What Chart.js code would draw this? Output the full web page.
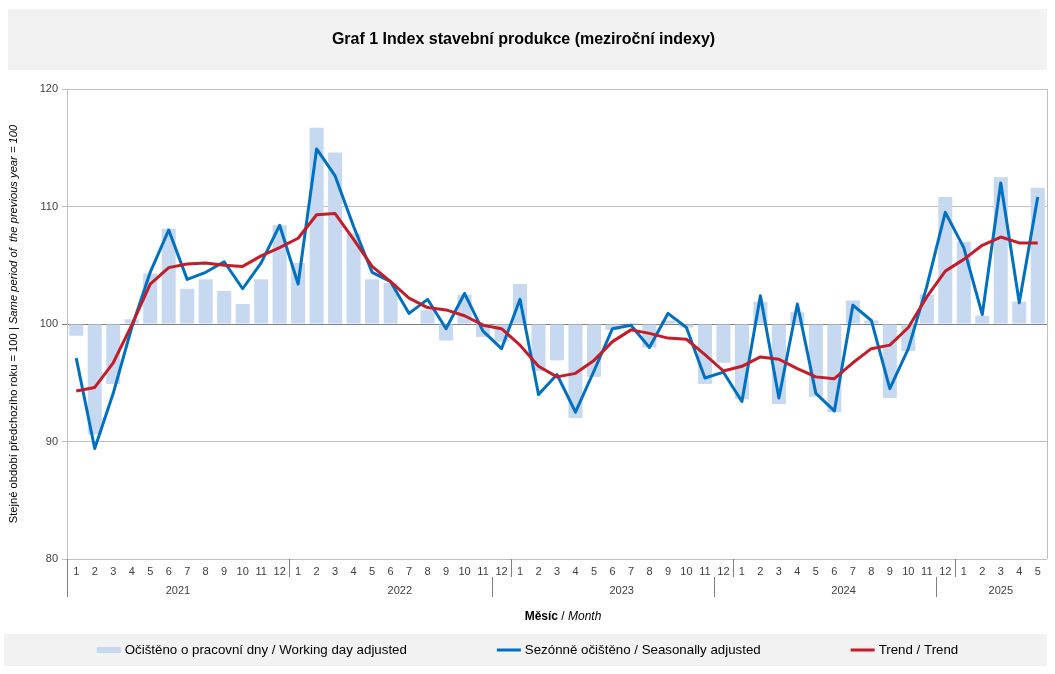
<!DOCTYPE html>
<html>
<head>
<meta charset="utf-8">
<script src="https://cdn.jsdelivr.net/npm/chart.js@4.4.1/dist/chart.umd.min.js"></script>
<style>
  html, body { margin: 0; padding: 0; background: #ffffff; }
  #wrap { width: 1055px; height: 674px; position: relative; }
</style>
</head>
<body>
<div id="wrap"><canvas id="chart" width="1055" height="674"></canvas></div>
<script>
// ---------- DATA ----------
const months = [
  '1','2','3','4','5','6','7','8','9','10','11','12',
  '1','2','3','4','5','6','7','8','9','10','11','12',
  '1','2','3','4','5','6','7','8','9','10','11','12',
  '1','2','3','4','5','6','7','8','9','10','11','12',
  '1','2','3','4','5'
];
const years = ['2021', '2022', '2023', '2024', '2025'];
const monthsInYear = [12, 12, 12, 12, 5];

const workingDayAdjusted = [
  99.0, 90.6, 94.9, 100.4, 104.3, 108.1, 103.0, 103.8, 102.8, 101.7, 103.8, 108.4,
  105.2, 116.7, 114.6, 107.7, 103.8, 103.5, 100.05, 101.2, 98.6, 102.5, 98.9, 98.5,
  103.4, 96.0, 96.9, 92.0, 95.5, 99.5, 100.1, 98.0, 100.3, 99.7, 94.9, 96.7,
  93.6, 101.9, 93.2, 101.0, 93.8, 92.5, 102.0, 100.3, 93.7, 97.7, 102.5, 110.8,
  107.0, 100.7, 112.5, 101.9, 111.6
];
const seasonallyAdjusted = [
  97.1, 89.4, 94.1, 99.7, 104.4, 108.0, 103.8, 104.4, 105.3, 103.0, 105.2, 108.4,
  103.4, 114.9, 112.6, 108.3, 104.4, 103.6, 100.9, 102.1, 99.6, 102.6, 99.4, 97.9,
  102.1, 94.0, 95.7, 92.5, 96.0, 99.6, 99.9, 98.0, 100.9, 99.7, 95.4, 95.9,
  93.4, 102.4, 93.7, 101.7, 94.1, 92.6, 101.6, 100.3, 94.5, 97.9, 103.2, 109.5,
  106.5, 100.8, 112.0, 101.8, 110.8
];
const trend = [
  94.3, 94.6, 96.7, 99.9, 103.4, 104.8, 105.1, 105.2, 105.0, 104.9, 105.8, 106.5,
  107.3, 109.3, 109.4, 107.2, 104.9, 103.6, 102.2, 101.4, 101.2, 100.7, 99.9, 99.6,
  98.2, 96.4, 95.5, 95.8, 96.9, 98.5, 99.5, 99.2, 98.8, 98.7, 97.4, 96.0,
  96.4, 97.2, 97.0, 96.2, 95.5, 95.35, 96.7, 97.9, 98.2, 99.7, 102.3, 104.5,
  105.5, 106.7, 107.4, 106.9, 106.9
];
const yMin = 80, yMax = 120, yStep = 10, yBase = 100;

const seriesLabels = [
  'Očištěno o pracovní dny / Working day adjusted',
  'Sezónně očištěno / Seasonally adjusted',
  'Trend / Trend'
];
const chartTitle = 'Graf 1 Index stavební produkce (meziroční indexy)';
const yTitleCz = 'Stejné období předchozího roku = 100 | ';
const yTitleEn = 'Same period of  the previous year = 100';
const xTitleCz = 'Měsíc';
const xTitleSep = ' / ';
const xTitleEn = 'Month';

// ---------- STYLE ----------
const FONT = '"Liberation Sans", Arial, Helvetica, sans-serif';
const GRID = '#bfbfbf';
const AXIS100 = '#808080';
const TICKCOL = '#404040';

const decorPlugin = {
  id: 'decor',
  beforeDraw(chart) {
    const ctx = chart.ctx;
    ctx.save();
    ctx.fillStyle = '#ffffff';
    ctx.fillRect(0, 0, chart.width, chart.height);
    ctx.fillStyle = '#f2f2f2';
    ctx.fillRect(8, 9, 1039, 61);     // title box
    ctx.fillRect(4, 634, 1043, 32);   // legend box
    ctx.restore();
  },
  afterDraw(chart) {
    const ctx = chart.ctx;
    const area = chart.chartArea;
    const xs = chart.scales.x;
    const w = (area.right - area.left) / months.length;
    ctx.save();
    // right border of plot
    ctx.strokeStyle = GRID;
    ctx.lineWidth = 1;
    ctx.beginPath();
    ctx.moveTo(Math.round(area.right) + 0.5, area.top);
    ctx.lineTo(Math.round(area.right) + 0.5, area.bottom);
    ctx.stroke();

    // category separators
    ctx.strokeStyle = '#7f7f7f';
    const rowMid = area.bottom + 18;
    const rowEnd = area.bottom + 38;
    ctx.beginPath();
    ctx.moveTo(Math.round(area.left) + 0.5, area.bottom);
    ctx.lineTo(Math.round(area.left) + 0.5, rowEnd);
    ctx.stroke();
    let idx = 0;
    ctx.font = '11px ' + FONT;
    ctx.fillStyle = TICKCOL;
    ctx.textAlign = 'center';
    ctx.textBaseline = 'middle';
    years.forEach((yr, i) => {
      const first = idx, last = idx + monthsInYear[i] - 1;
      const cx = (xs.getPixelForValue(first) + xs.getPixelForValue(last)) / 2;
      ctx.fillText(yr, cx, area.bottom + 32);
      if (i > 0) {
        const bx = Math.round(xs.getPixelForValue(first) - w / 2) + 0.5;
        ctx.beginPath();
        ctx.moveTo(bx, area.bottom);
        ctx.lineTo(bx, rowMid);
        ctx.stroke();
      }
      if (i > 1) {
        const yx = Math.round(xs.getPixelForValue(first - 1) - w / 2) + 0.5;
        ctx.beginPath();
        ctx.moveTo(yx, rowMid);
        ctx.lineTo(yx, rowEnd);
        ctx.stroke();
      }
      idx += monthsInYear[i];
    });

    // x axis title (mixed styles)
    const xc = (area.left + area.right) / 2 + 6;
    const fB = 'bold 12px ' + FONT, fR = '12px ' + FONT, fI = 'italic 12px ' + FONT;
    ctx.textAlign = 'left';
    ctx.fillStyle = '#000000';
    ctx.font = fB; const w1 = ctx.measureText(xTitleCz).width;
    ctx.font = fR; const w2 = ctx.measureText(xTitleSep).width;
    ctx.font = fI; const w3 = ctx.measureText(xTitleEn).width;
    let sx = xc - (w1 + w2 + w3) / 2;
    const ty = 617;
    ctx.font = fB; ctx.fillText(xTitleCz, sx, ty); sx += w1;
    ctx.font = fR; ctx.fillText(xTitleSep, sx, ty); sx += w2;
    ctx.font = fI; ctx.fillText(xTitleEn, sx, ty);

    // y axis title (rotated, mixed styles)
    ctx.save();
    ctx.translate(14, (area.top + area.bottom) / 2);
    ctx.rotate(-Math.PI / 2);
    const yf1 = '11.2px ' + FONT, yf2 = 'italic 11.2px ' + FONT;
    ctx.font = yf1; const a1 = ctx.measureText(yTitleCz).width;
    ctx.font = yf2; const a2 = ctx.measureText(yTitleEn).width;
    let px = -(a1 + a2) / 2;
    ctx.fillStyle = '#000000';
    ctx.font = yf1; ctx.fillText(yTitleCz, px, 0);
    ctx.font = yf2; ctx.fillText(yTitleEn, px + a1, 0);
    ctx.restore();

    // legend
    const ds = chart.data.datasets;
    ctx.font = '13.3px ' + FONT;
    const boxW = 24, gapText = 4, gapItem = 90;
    const widths = ds.map(d => boxW + gapText + ctx.measureText(d.label).width);
    const total = widths.reduce((s, v) => s + v, 0) + gapItem * (ds.length - 1);
    let lx = chart.width / 2 - total / 2;
    const ly = 650;
    ds.forEach((d, i) => {
      if (d.type === 'line') {
        ctx.fillStyle = d.borderColor;
        ctx.fillRect(lx, ly - 1.5, boxW, 3);
      } else {
        ctx.fillStyle = d.backgroundColor;
        ctx.fillRect(lx, ly - 3, boxW, 6);
      }
      ctx.fillStyle = '#000000';
      ctx.textBaseline = 'middle';
      ctx.fillText(d.label, lx + boxW + gapText, ly);
      lx += widths[i] + gapItem;
    });
    ctx.restore();
  }
};

new Chart(document.getElementById('chart'), {
  type: 'bar',
  data: {
    labels: months,
    datasets: [
      {
        type: 'bar',
        label: seriesLabels[0],
        data: workingDayAdjusted,
        base: yBase,
        backgroundColor: '#c6d9f0',
        borderWidth: 0,
        barPercentage: 0.76,
        categoryPercentage: 1.0,
        order: 3
      },
      {
        type: 'line',
        label: seriesLabels[1],
        data: seasonallyAdjusted,
        borderColor: '#0070c0',
        backgroundColor: '#0070c0',
        borderWidth: 3,
        pointRadius: 0,
        tension: 0,
        fill: false,
        borderJoinStyle: 'round',
        order: 2
      },
      {
        type: 'line',
        label: seriesLabels[2],
        data: trend,
        borderColor: '#c21d28',
        backgroundColor: '#c21d28',
        borderWidth: 3,
        pointRadius: 0,
        tension: 0,
        fill: false,
        borderJoinStyle: 'round',
        order: 1
      }
    ]
  },
  options: {
    responsive: false,
    animation: false,
    devicePixelRatio: 1,
    layout: { padding: { left: 0, right: 8, top: 0, bottom: 0 } },
    plugins: {
      legend: { display: false },
      tooltip: { enabled: false },
      title: {
        display: true,
        text: chartTitle,
        color: '#000000',
        font: { family: FONT, size: 16, weight: 'bold', lineHeight: 1.2 },
        padding: { top: 30, bottom: 39.8 }
      }
    },
    scales: {
      x: {
        type: 'category',
        offset: true,
        grid: { display: false, drawTicks: false },
        border: { display: false },
        ticks: {
          color: TICKCOL,
          font: { family: FONT, size: 11 },
          padding: 6,
          maxRotation: 0,
          autoSkip: false
        },
        afterFit(scale) { scale.height = 115; }
      },
      y: {
        min: yMin,
        max: yMax,
        ticks: {
          stepSize: yStep,
          color: TICKCOL,
          font: { family: FONT, size: 11 },
          padding: 4
        },
        grid: {
          color: (c) => (c.tick && c.tick.value === yBase) ? AXIS100 : GRID,
          tickLength: 5,
          lineWidth: 1
        },
        border: { color: GRID },
        afterFit(scale) { scale.width = 67; }
      }
    }
  },
  plugins: [decorPlugin]
});
</script>
</body>
</html>
